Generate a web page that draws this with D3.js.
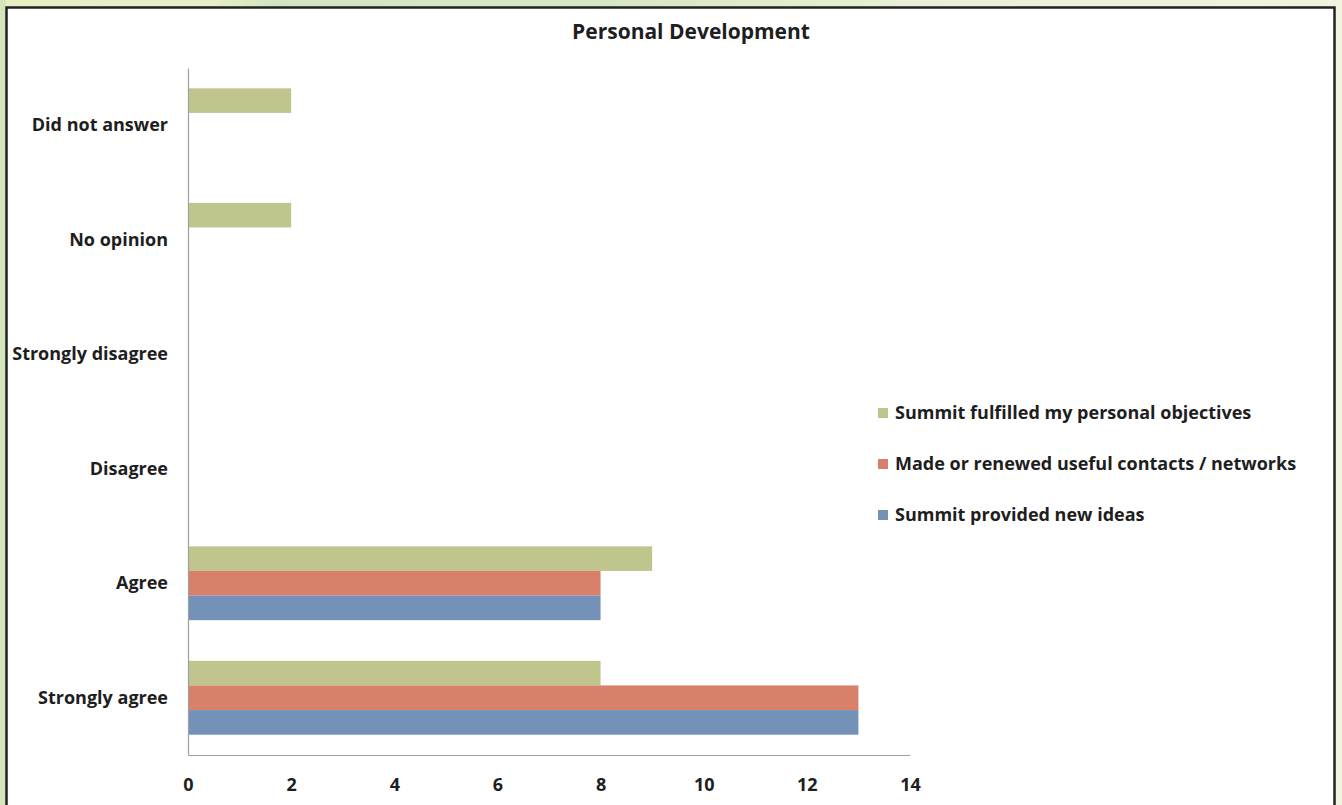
<!DOCTYPE html>
<html>
<head>
<meta charset="utf-8">
<script src="https://cdn.jsdelivr.net/npm/d3@7"></script>
<style>
  html, body { margin: 0; padding: 0; background: #e4eec6; }
  svg { display: block; }
</style>
</head>
<body>
<svg id="chart" width="1342" height="805"></svg>
<script>
// Survey responses, listed top to bottom as drawn
const categories = ["Did not answer", "No opinion", "Strongly disagree", "Disagree", "Agree", "Strongly agree"];
const seriesNames = [
  "Summit fulfilled my personal objectives",
  "Made or renewed useful contacts / networks",
  "Summit provided new ideas"
];
const fulfilledObjectives = [2, 2, 0, 0, 9, 8];
const usefulContacts      = [0, 0, 0, 0, 8, 13];
const newIdeas            = [0, 0, 0, 0, 8, 13];
const xTicks = [0, 2, 4, 6, 8, 10, 12, 14];
const seriesColors = ["#c0c58e", "#d9806a", "#7491b8"];

const seriesValues = [fulfilledObjectives, usefulContacts, newIdeas];

const svg = d3.select("#chart");
const W = 1342, H = 805;

// Page background behind the chart frame
const bg = svg.append("defs").append("linearGradient").attr("id", "bgGrad")
  .attr("x1", "0").attr("x2", "1").attr("y1", "0").attr("y2", "0");
bg.append("stop").attr("offset", "0").attr("stop-color", "#e6efc4");
bg.append("stop").attr("offset", "0.16").attr("stop-color", "#e6efc6");
bg.append("stop").attr("offset", "0.2").attr("stop-color", "#d3e5c0");
bg.append("stop").attr("offset", "0.45").attr("stop-color", "#d6e7c4");
bg.append("stop").attr("offset", "0.7").attr("stop-color", "#eaf0d6");
bg.append("stop").attr("offset", "1").attr("stop-color", "#f1f3de");
svg.append("rect").attr("width", W).attr("height", H).attr("fill", "url(#bgGrad)");
svg.append("rect").attr("x", 0).attr("y", 0).attr("width", 6).attr("height", H).attr("fill", "#d6e6bc");

// Chart frame
svg.append("rect").attr("x", 6.5).attr("y", 7.5).attr("width", 1328).attr("height", 820)
  .attr("fill", "#ffffff").attr("stroke", "#222222").attr("stroke-width", 2.5);

const font = "'Open Sans', 'DejaVu Sans', sans-serif";
const labelSize = 18;

// Title
svg.append("text").attr("x", 691).attr("y", 39)
  .attr("text-anchor", "middle")
  .attr("font-family", font).attr("font-weight", 700).attr("font-size", 21)
  .attr("fill", "#1e1e1e")
  .text("Personal Development");

const plot = { left: 188, right: 910, top: 68, bottom: 755 };

const x = d3.scaleLinear().domain([0, 14]).range([plot.left, plot.right]);
const y = d3.scaleBand().domain(categories).range([plot.top, plot.bottom]).paddingInner(0.355).paddingOuter(0.1775);
const ySub = d3.scaleBand().domain(seriesNames).range([0, y.bandwidth()]);

// Bars
const g = svg.append("g");
seriesNames.forEach((name, si) => {
  g.append("g").selectAll("rect")
    .data(categories.map((c, i) => ({ c, v: seriesValues[si][i] })))
    .join("rect")
    .attr("x", x(0))
    .attr("y", d => y(d.c) + ySub(name))
    .attr("width", d => x(d.v) - x(0))
    .attr("height", ySub.bandwidth())
    .attr("fill", seriesColors[si]);
});

// Axes
const xAxis = d3.axisBottom(x).tickValues(xTicks).tickSize(0).tickPadding(23).tickFormat(d3.format("d"));
const xg = svg.append("g").attr("transform", `translate(0,${plot.bottom})`).call(xAxis);
xg.select(".domain").attr("stroke", "#a0a0a0").attr("stroke-width", 1.2);
xg.selectAll("text").attr("font-family", font).attr("font-weight", 700).attr("font-size", labelSize).attr("fill", "#1e1e1e");

const yAxis = d3.axisLeft(y).tickSize(0).tickPadding(20);
const yg = svg.append("g").attr("transform", `translate(${plot.left},0)`).call(yAxis);
yg.select(".domain").attr("stroke", "#a0a0a0").attr("stroke-width", 1.2);
yg.selectAll("text").attr("font-family", font).attr("font-weight", 700).attr("font-size", labelSize).attr("fill", "#1e1e1e");

// Legend
const legend = svg.append("g").attr("transform", "translate(878,413)");
seriesNames.forEach((name, i) => {
  const row = legend.append("g").attr("transform", `translate(0,${i * 51})`);
  row.append("rect").attr("x", 0).attr("y", -5).attr("width", 10).attr("height", 10).attr("fill", seriesColors[i]);
  row.append("text").attr("x", 17).attr("y", 0).attr("dy", "0.35em")
    .attr("font-family", font).attr("font-weight", 700).attr("font-size", labelSize).attr("fill", "#1e1e1e")
    .text(name);
});
</script>
</body>
</html>
